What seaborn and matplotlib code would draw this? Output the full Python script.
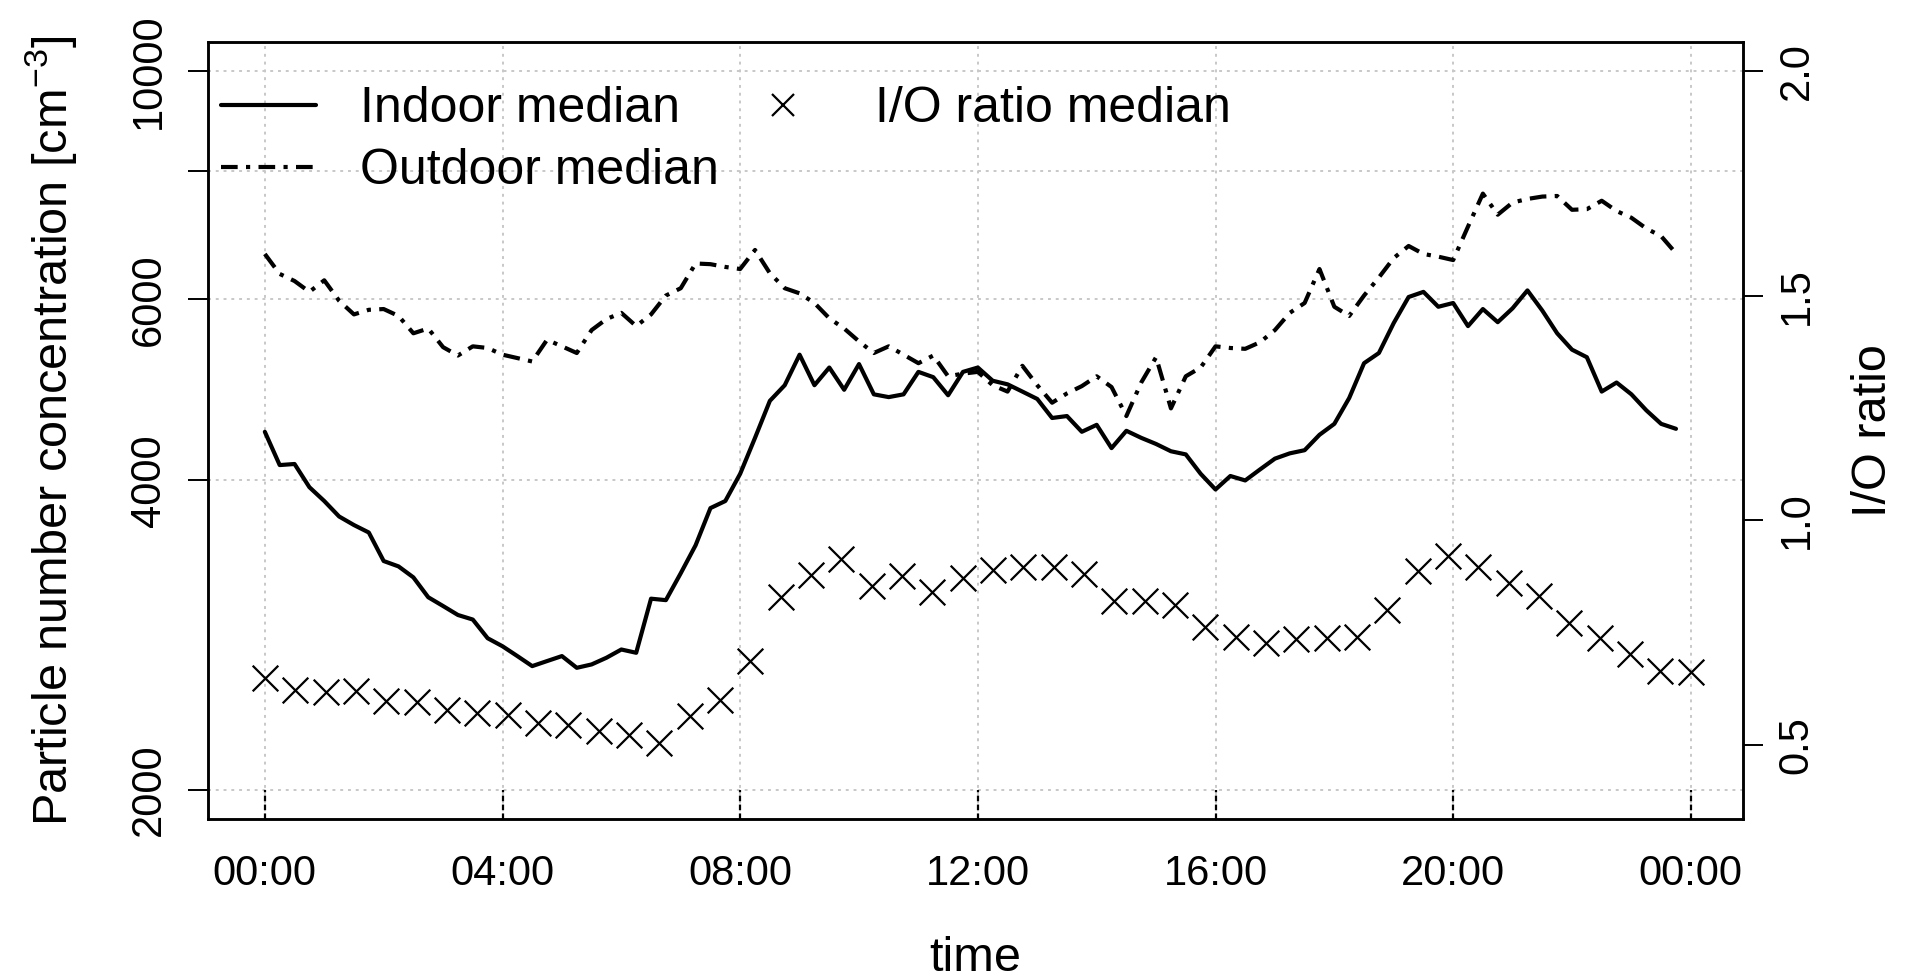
import matplotlib
matplotlib.use("Agg")
import matplotlib.pyplot as plt
import seaborn as sns
import numpy as np
import pandas as pd
from matplotlib.lines import Line2D
from matplotlib.ticker import NullLocator

# 15-min medians of particle number concentration [cm^-3]
indoor = [4460, 4140, 4150, 3940, 3820, 3690, 3620, 3560,
          3340, 3300, 3220, 3080, 3020, 2960, 2930, 2810,
          2760, 2700, 2640, 2670, 2700, 2630, 2650, 2690,
          2740, 2720, 3070, 3060, 3250, 3460, 3760, 3820,
          4060, 4400, 4780, 4950, 5300, 4950, 5150, 4900,
          5190, 4850, 4820, 4850, 5100, 5040, 4840, 5100,
          5150, 5000, 4960, 4880, 4800, 4600, 4620, 4460,
          4530, 4300, 4470, 4400, 4340, 4270, 4240, 4060,
          3920, 4040, 4000, 4100, 4200, 4250, 4280, 4430,
          4540, 4810, 5200, 5320, 5690, 6030, 6100, 5900,
          5950, 5650, 5870, 5700, 5880, 6120, 5850, 5560,
          5360, 5270, 4880, 4980, 4850, 4680, 4540, 4490]
outdoor = [6640, 6350, 6250, 6100, 6260, 5980, 5800, 5860,
           5870, 5780, 5560, 5620, 5390, 5290, 5400, 5380,
           5300, 5260, 5220, 5480, 5400, 5320, 5600, 5740,
           5820, 5650, 5800, 6050, 6150, 6500, 6490, 6450,
           6420, 6700, 6360, 6150, 6080, 5950, 5750, 5620,
           5460, 5320, 5400, 5300, 5200, 5290, 5050, 5080,
           5100, 4950, 4880, 5170, 4950, 4760, 4860, 4940,
           5050, 4930, 4620, 4980, 5270, 4700, 5050, 5150,
           5400, 5380, 5370, 5450, 5600, 5820, 5950, 6420,
           5900, 5780, 6050, 6300, 6580, 6760, 6640, 6600,
           6550, 7060, 7600, 7250, 7450, 7510, 7550, 7560,
           7330, 7340, 7480, 7310, 7200, 7030, 6910, 6650]
# half-hourly I/O ratio medians
io_ratio = [0.649, 0.622, 0.618, 0.621, 0.598, 0.596, 0.578, 0.572,
            0.567, 0.550, 0.544, 0.532, 0.522, 0.506, 0.564, 0.600,
            0.687, 0.830, 0.878, 0.915, 0.854, 0.876, 0.841, 0.871,
            0.889, 0.896, 0.896, 0.880, 0.821, 0.821, 0.811, 0.762,
            0.741, 0.727, 0.737, 0.739, 0.741, 0.800, 0.888, 0.920,
            0.896, 0.861, 0.831, 0.772, 0.739, 0.702, 0.665, 0.663]
hour_ticks = [0, 4, 8, 12, 16, 20, 24]
hour_labels = ["00:00", "04:00", "08:00", "12:00", "16:00", "20:00", "00:00"]
pnc_ticks = [2000, 4000, 6000, 8000, 10000]
pnc_labels = ["2000", "4000", "6000", "", "10000"]
ratio_ticks = [0.5, 1.0, 1.5, 2.0]

lines = pd.DataFrame({"hour": np.arange(len(indoor)) * 0.25,
                      "indoor": indoor, "outdoor": outdoor})
ratio = pd.DataFrame({"hour": np.linspace(0, 24, len(io_ratio)), "ratio": io_ratio})

sns.set_style("ticks")
plt.rcParams["font.family"] = ["Liberation Sans", "DejaVu Sans"]
plt.rcParams["mathtext.fontset"] = "custom"
plt.rcParams["mathtext.rm"] = "Liberation Sans"
plt.rcParams["mathtext.it"] = "Liberation Sans:italic"
for key in ["text.color", "axes.labelcolor", "xtick.color", "ytick.color",
            "xtick.labelcolor", "ytick.labelcolor"]:
    plt.rcParams[key] = "black"

fig, ax = plt.subplots(figsize=(19.08, 9.77), dpi=100)
fig.subplots_adjust(left=0.109, right=0.9134, top=0.957, bottom=0.1617)

ax.set_yscale("log")
ylo = 1875
ax.set_ylim(ylo, 10670)
ax.set_xlim(-0.957, 24.874)

sns.lineplot(data=lines, x="hour", y="indoor", ax=ax, color="black", lw=3.0,
             estimator=None, legend=False)
sns.lineplot(data=lines, x="hour", y="outdoor", ax=ax, color="black", lw=3.0,
             estimator=None, legend=False, linestyle=(0, (4, 2, 1, 2)))

ax.set_yticks(pnc_ticks)
ax.set_yticklabels(pnc_labels)
ax.yaxis.set_minor_locator(NullLocator())
ax.set_xticks(hour_ticks)
ax.set_xticklabels(hour_labels)
ax.grid(True, color="#c8c8c8", linestyle=(0, (1.5, 2.5)), lw=1.4)
ax.vlines(hour_ticks, ylo, 2000, colors="black", linestyles=(0, (2.5, 1.5)), lw=1.6)

ax.tick_params(axis="x", length=0, pad=25, labelsize=30)
ax.tick_params(axis="y", length=14.4, width=1.4, pad=14, labelsize=30, direction="out")
plt.setp(ax.get_yticklabels(), rotation=90, va="center")
for s in ax.spines.values():
    s.set_linewidth(1.8)
    s.set_color("black")

ax.set_xlabel("time", fontsize=35)
ax.xaxis.set_label_coords(0.5, -0.150)
ax.set_ylabel(r"Particle number concentration [cm$^{-3}$]", fontsize=35)
ax.yaxis.set_label_coords(-0.084, 0.5)

ax2 = ax.twinx()
sns.scatterplot(data=ratio, x="hour", y="ratio", ax=ax2, marker="x", s=340,
                color="black", linewidth=1.6, legend=False)
ax2.set_ylim(0.336, 2.064)
ax2.set_yticks(ratio_ticks)
ax2.set_yticklabels(["0.5", "1.0", "1.5", "2.0"])
ax2.tick_params(axis="y", length=14.4, width=1.4, pad=10, labelsize=30, direction="out")
plt.setp(ax2.get_yticklabels(), rotation=90, va="center")
ax2.set_ylabel("I/O ratio", fontsize=35)
ax2.yaxis.set_label_coords(1.0704, 0.5)
for s in ax2.spines.values():
    s.set_linewidth(1.8)
    s.set_color("black")

handles = [Line2D([], [], color="black", lw=3.0),
           Line2D([], [], color="black", lw=3.0, linestyle=(0, (4, 2, 1, 2))),
           Line2D([], [], color="black", marker="x", linestyle="None",
                  markersize=16, markeredgewidth=1.6)]
ax2.legend(handles, ["Indoor median", "Outdoor median", "I/O ratio median"],
           ncol=2, loc="upper left", bbox_to_anchor=(0.0085, 0.9428),
           frameon=False, fontsize=36, borderaxespad=0, borderpad=0,
           handlelength=1.9, handletextpad=0.88, columnspacing=0.34,
           labelspacing=0.32)

fig.savefig("out.png", dpi=100)
